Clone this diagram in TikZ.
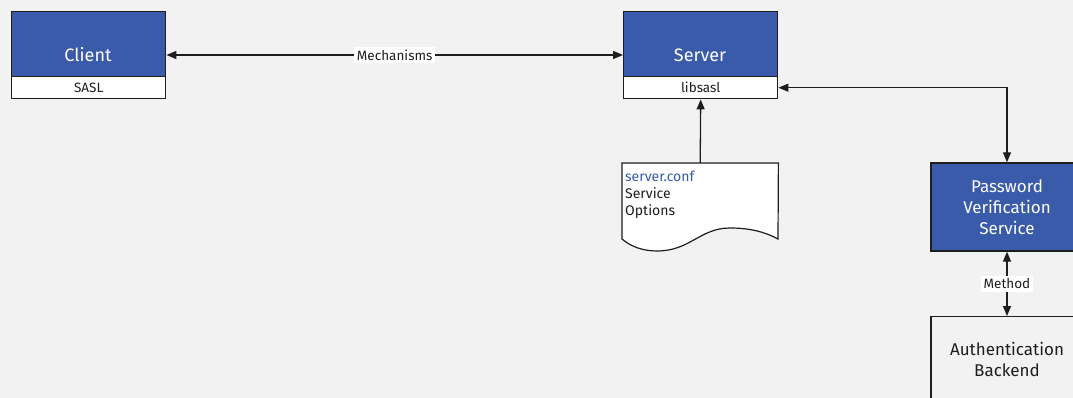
\documentclass[tikz,border=0pt]{standalone}
\usepackage{fontspec}
\setmainfont{Fira Sans}
\usetikzlibrary{arrows.meta}
\definecolor{bg}{HTML}{F2F2F2}
\definecolor{ibmblue}{HTML}{3A5BA9}
\definecolor{ink}{HTML}{1E1E1E}
\definecolor{conftext}{HTML}{3A5BA9}
\begin{document}
\begin{tikzpicture}[x=1pt,y=-1pt,
  bluebox/.style={draw=ink, line width=1.4pt, fill=ibmblue, minimum width=154pt, minimum height=65pt, inner sep=0pt, anchor=north west},
  whitebox/.style={draw=ink, line width=1.4pt, fill=white, minimum width=154pt, minimum height=22pt, inner sep=0pt, anchor=north west, font=\fontsize{13.5}{15}\selectfont, text=ink},
  bluetext/.style={text=white, font=\fontsize{18}{21}\selectfont, inner sep=0pt},
  lbl/.style={fill=white, text=ink, font=\fontsize{13.5}{15}\selectfont, inner sep=3pt},
  conn/.style={draw=ink, line width=1.3pt, {Triangle[length=10pt,width=8pt]}-{Triangle[length=10pt,width=8pt]}},
  connin/.style={draw=ink, line width=1.3pt, {Triangle[length=10pt,width=8pt]}-}
]
\useasboundingbox (0,0) rectangle (1073,398);
\clip (0,0) rectangle (1073,398);
\fill[bg] (0,0) rectangle (1073,398);

% Client
\node[bluebox] (client) at (11,11) {};
\node[whitebox] (sasl) at (11,76) {SASL};
\node[bluetext] (clientlbl) at (88,55) {Client};

% Server
\node[bluebox] (server) at (623,11) {};
\node[whitebox] (libsasl) at (623,76) {libsasl};
\node[bluetext] (serverlbl) at (700,55) {Server};

% Password Verification Service
\node[draw=ink, line width=1.4pt, fill=ibmblue, text=white, minimum width=152pt, minimum height=88pt, inner sep=0pt, align=center,
      font=\fontsize{17}{21}\selectfont] (pvs) at (1007,207) {Password\\Verification\\Service};

% Authentication Backend
\node[draw=ink, line width=1.4pt, fill=bg, minimum width=152pt, minimum height=100pt, inner sep=0pt, anchor=north] (auth) at (1007,316) {};
\node[text=ink, align=center, inner sep=0pt, font=\fontsize{17}{21}\selectfont] (authlbl) at (1007,359) {Authentication\\Backend};

% Document server.conf
\node[minimum width=156pt, minimum height=76pt, inner sep=0pt, anchor=north west] (doc) at (622,163) {};
\draw[draw=ink, line width=1.2pt, fill=white]
  (doc.north west) -- (doc.north east) -- (778,239)
  .. controls (765,232) and (750,228) .. (730,228)
  .. controls (700,228) and (690,251) .. (657,251)
  .. controls (642,251) and (630,246) .. (622,239) -- cycle;
\node[anchor=north west, align=left, inner sep=0pt, text=ink, font=\fontsize{14}{17}\selectfont] (doctext) at (625,171)
  {\textcolor{conftext}{server.conf}\\Service\\Options};

% Connectors
\draw[conn] (clientlbl -| client.east) -- node[lbl] {Mechanisms} (serverlbl -| server.west);
\draw[connin] (libsasl.south) -- (doc.north);
\draw[conn] (libsasl.east) -| (pvs.north);
\draw[conn] (pvs.south) -- node[lbl] {Method} (auth.north);
\end{tikzpicture}
\end{document}
